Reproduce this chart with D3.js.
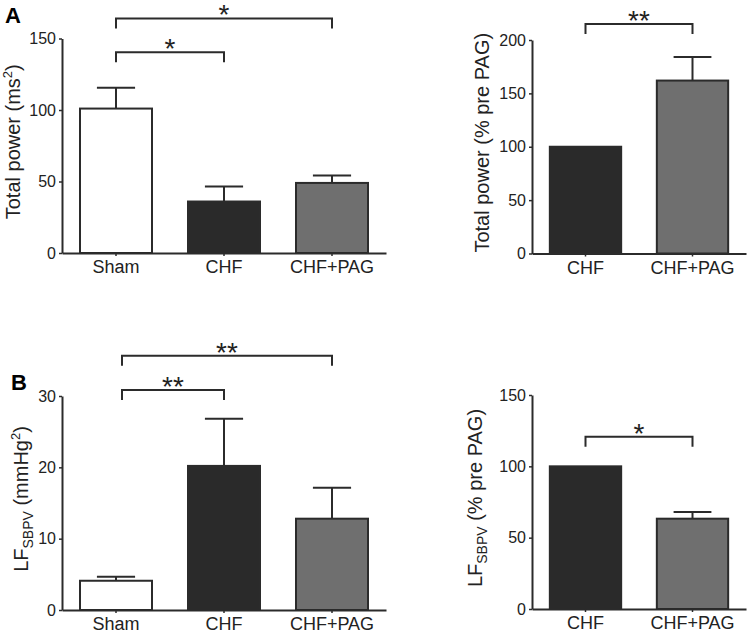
<!DOCTYPE html>
<html>
<head>
<meta charset="utf-8">
<script src="https://cdn.jsdelivr.net/npm/d3@7"></script>
<style>
  html, body { margin: 0; padding: 0; background: #fff; }
  svg { display: block; font-family: "Liberation Sans", Arial, sans-serif; }
</style>
</head>
<body>
<svg id="chart" width="750" height="636"></svg>
<script>
// ---------- data ----------
const catsThree = ["Sham", "CHF", "CHF+PAG"];
const catsTwo = ["CHF", "CHF+PAG"];

const totalPowerVals = [101, 36, 49];
const totalPowerErr = [14.5, 10.5, 5.2];
const totalPowerTicks = [0, 50, 100, 150];

const totalPowerPctVals = [100, 162];
const totalPowerPctErr = [0, 22];
const totalPowerPctTicks = [0, 50, 100, 150, 200];

const lfVals = [4.1, 20.2, 12.8];
const lfErr = [0.55, 6.6, 4.35];
const lfTicks = [0, 10, 20, 30];

const lfPctVals = [100, 63.3];
const lfPctErr = [0, 4.7];
const lfPctTicks = [0, 50, 100, 150];

// significance brackets: [from, to, level (data units), label]
const sigTotalPower = [["Sham", "CHF+PAG", 164, "*"], ["Sham", "CHF", 140.3, "*"]];
const sigTotalPowerPct = [["CHF", "CHF+PAG", 215, "**"]];
const sigLf = [["Sham", "CHF+PAG", 35.65, "**"], ["Sham", "CHF", 30.84, "**"]];
const sigLfPct = [["CHF", "CHF+PAG", 120.8, "*"]];

const fills = { "Sham": "#ffffff", "CHF": "#2a2a2a", "CHF+PAG": "#6f6f6f" };
const ink = "#2b2b2b";

// ---------- drawing ----------
const svg = d3.select("#chart");

function panel(cfg) {
  const g = svg.append("g");
  const x = d3.scaleBand().domain(cfg.cats).range(cfg.xr).paddingInner(1/3).paddingOuter(1/6);
  const y = d3.scaleLinear().domain([0, d3.max(cfg.ticks)]).range(cfg.yr);
  const bw = x.bandwidth();
  const data = cfg.cats.map((c, i) => ({ c, v: cfg.vals[i], e: cfg.err[i] }));

  // error bars (upper only)
  const eg = g.append("g").attr("stroke", ink).attr("stroke-width", 2);
  data.filter(d => d.e > 0).forEach(d => {
    const cx = x(d.c) + bw / 2;
    eg.append("line").attr("x1", cx).attr("x2", cx).attr("y1", y(d.v)).attr("y2", y(d.v + d.e));
    eg.append("line").attr("x1", cx - bw * 0.265).attr("x2", cx + bw * 0.265)
      .attr("y1", y(d.v + d.e)).attr("y2", y(d.v + d.e));
  });

  // bars
  g.append("g").selectAll("rect").data(data).join("rect")
    .attr("x", d => x(d.c)).attr("width", bw)
    .attr("y", d => y(d.v)).attr("height", d => y(0) - y(d.v))
    .attr("fill", d => fills[d.c]).attr("stroke", ink).attr("stroke-width", 2);

  // axes
  const ya = g.append("g").attr("transform", `translate(${cfg.xr[0]},0)`)
    .call(d3.axisLeft(y).tickValues(cfg.ticks).tickSize(3).tickSizeOuter(0).tickPadding(3));
  const xa = g.append("g").attr("transform", `translate(0,${cfg.yr[0]})`)
    .call(d3.axisBottom(x).tickSize(3).tickSizeOuter(0).tickPadding(4));
  [ya, xa].forEach(a => {
    a.select(".domain").attr("stroke", ink).attr("stroke-width", 2);
    a.selectAll(".tick line").attr("stroke", ink).attr("stroke-width", 1.5);
    a.selectAll(".tick text").attr("fill", "#222").attr("font-family", "Liberation Sans, Arial, sans-serif");
  });
  ya.selectAll(".tick text").attr("font-size", 16);
  xa.selectAll(".tick text").attr("font-size", 18).attr("dy", "0.74em");

  // y title
  const t = g.append("text")
    .attr("transform", `translate(${cfg.titleX},${(cfg.yr[0] + cfg.yr[1]) / 2 - 4}) rotate(-90)`)
    .attr("text-anchor", "middle").attr("font-size", 20).attr("fill", "#222");
  cfg.title.forEach(p => {
    const s = t.append("tspan").text(p.t);
    if (p.sup) s.attr("font-size", 13).attr("dy", -8);
    if (p.sub) s.attr("font-size", 14).attr("dy", 5);
    if (p.back) s.attr("dy", p.back);
  });

  // significance brackets
  const bg = g.append("g");
  cfg.sig.forEach(([a, b, lvl, lab]) => {
    const x1 = x(a) + bw / 2 + (cfg.inset && a === "Sham" ? cfg.inset : 0);
    const x2 = x(b) + bw / 2;
    const yy = y(lvl);
    bg.append("path")
      .attr("d", `M${x1},${yy + 10}V${yy}H${x2}V${yy + 10}`)
      .attr("fill", "none").attr("stroke", ink).attr("stroke-width", 2);
    bg.append("text").attr("x", (x1 + x2) / 2).attr("y", yy + 6)
      .attr("text-anchor", "middle").attr("font-size", 28).attr("fill", "#222").text(lab);
  });

  if (cfg.letter) {
    g.append("text").attr("x", cfg.letter[1]).attr("y", cfg.letter[2])
      .attr("font-size", 22).attr("font-weight", "bold").attr("fill", "#000").text(cfg.letter[0]);
  }
}

panel({
  cats: catsThree, vals: totalPowerVals, err: totalPowerErr, ticks: totalPowerTicks,
  xr: [62, 386], yr: [253, 38.5], titleX: 20,
  title: [{ t: "Total power (ms" }, { t: "2", sup: true }, { t: ")", back: 8 }],
  sig: sigTotalPower, letter: ["A", 5, 22.5]
});
panel({
  cats: catsTwo, vals: totalPowerPctVals, err: totalPowerPctErr, ticks: totalPowerPctTicks,
  xr: [532, 746], yr: [253.5, 40], titleX: 489,
  title: [{ t: "Total power (% pre PAG)" }],
  sig: sigTotalPowerPct
});
panel({
  cats: catsThree, vals: lfVals, err: lfErr, ticks: lfTicks,
  xr: [62, 386], yr: [610, 396], titleX: 28,
  title: [{ t: "LF" }, { t: "SBPV", sub: true }, { t: " (mmHg", back: -5 }, { t: "2", sup: true }, { t: ")", back: 8 }],
  sig: sigLf, inset: 6, letter: ["B", 11, 389.5]
});
panel({
  cats: catsTwo, vals: lfPctVals, err: lfPctErr, ticks: lfPctTicks,
  xr: [532, 746], yr: [609, 395], titleX: 482,
  title: [{ t: "LF" }, { t: "SBPV", sub: true }, { t: " (% pre PAG)", back: -5 }],
  sig: sigLfPct
});
</script>
</body>
</html>
